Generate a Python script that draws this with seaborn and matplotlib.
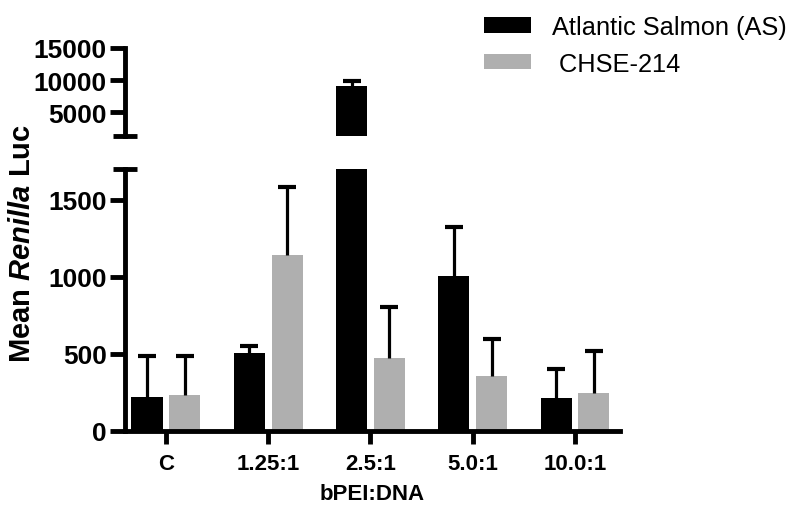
import numpy as np
import pandas as pd
import matplotlib
matplotlib.use("Agg")
import matplotlib.pyplot as plt
import seaborn as sns

# ---- data ----
categories = ["C", "1.25:1", "2.5:1", "5.0:1", "10.0:1"]
series = ["Atlantic Salmon (AS)", " CHSE-214"]
as_mean = [223, 508, 9150, 1004, 212]
as_sd = [264, 43, 680, 321, 188]
chse_mean = [236, 1140, 471, 357, 244]
chse_sd = [251, 444, 333, 242, 272]
colors = ["#000000", "#AFAFAF"]
lower_ticks = [0, 500, 1000, 1500]
upper_ticks = [5000, 10000, 15000]
lower_lim = (0, 1700)
upper_lim = (1380, 15000)

df = pd.DataFrame({
    "ratio": categories * 2,
    "line": [series[0]] * len(categories) + [series[1]] * len(categories),
    "mean": as_mean + chse_mean,
    "sd": as_sd + chse_sd,
})

sns.set_theme(style="ticks")
plt.rcParams["font.family"] = ["Liberation Sans", "DejaVu Sans"]
plt.rcParams["font.weight"] = "bold"
for k in ("axes.edgecolor", "xtick.color", "ytick.color", "text.color",
          "axes.labelcolor"):
    plt.rcParams[k] = "black"
plt.rcParams["mathtext.fontset"] = "custom"
plt.rcParams["mathtext.rm"] = "Liberation Sans:bold"
plt.rcParams["mathtext.it"] = "Liberation Sans:italic:bold"
plt.rcParams["mathtext.bf"] = "Liberation Sans:bold"

W, H = 787, 506
fig = plt.figure(figsize=(W / 100, H / 100), dpi=100)
ax_lo = fig.add_axes([125 / W, (H - 432) / H, 495 / W, 262 / H])
ax_hi = fig.add_axes([125 / W, (H - 136.7) / H, 495 / W, 87.7 / H])

LW = 3.5
for ax in (ax_lo, ax_hi):
    sns.barplot(data=df, x="ratio", y="mean", hue="line", palette=colors,
                saturation=1, width=0.74, gap=0.18, linewidth=0,
                errorbar=None, ax=ax, legend=(ax is ax_lo))
    for cont, sds, means in zip(ax.containers, [as_sd, chse_sd], [as_mean, chse_mean]):
        for bar, sd, m in zip(cont, sds, means):
            if ax is ax_hi and m < lower_lim[1]:
                continue
            x = bar.get_x() + bar.get_width() / 2
            y = bar.get_height()
            ax.plot([x, x], [y, y + sd], color="black", lw=2.3, zorder=3,
                    solid_capstyle="butt")
            ax.plot([x], [y + sd], marker="_", markersize=13, mew=3.0,
                    color="black", zorder=3)
    ax.set_xlim(-0.4, 4.44)
    ax.set_xlabel("")
    ax.set_ylabel("")
    for s in ("top", "right"):
        ax.spines[s].set_visible(False)
    ax.spines["left"].set_linewidth(LW)
    ax.spines["bottom"].set_linewidth(LW)
    ax.tick_params(axis="y", length=11, width=LW, pad=2, labelsize=19)

ax_lo.set_ylim(*lower_lim)
ax_lo.set_yticks(lower_ticks)
ax_lo.set_yticklabels([str(t) for t in lower_ticks])
ax_lo.tick_params(axis="x", length=9, width=LW, pad=7, labelsize=16)

ax_hi.set_ylim(*upper_lim)
ax_hi.set_yticks(upper_ticks)
ax_hi.set_yticklabels([str(t) for t in upper_ticks])
ax_hi.spines["bottom"].set_visible(False)
ax_hi.set_xticks([])

# break caps
ax_hi.plot([-0.025, 0.025], [0, 0], transform=ax_hi.transAxes, color="black",
           lw=LW, clip_on=False, solid_capstyle="butt")
ax_lo.plot([-0.025, 0.025], [1, 1], transform=ax_lo.transAxes, color="black",
           lw=LW, clip_on=False, solid_capstyle="butt")

ax_lo.set_xlabel("bPEI:DNA", fontsize=16, fontweight="bold", labelpad=6)
fig.text(22 / W, 1 - 243 / H, "Mean $\\mathit{Renilla}$ Luc", rotation=90,
         ha="center", va="center", fontsize=21, fontweight="bold")

handles, labels = ax_lo.get_legend_handles_labels()
ax_lo.get_legend().remove()
fig.legend(handles, labels, loc="upper left", bbox_to_anchor=(484 / W, 1 - 16 / H),
           frameon=False, prop={"weight": "normal", "size": 18.3},
           handlelength=1.85, handleheight=0.55, handletextpad=0.83,
           labelspacing=0.5, borderaxespad=0, borderpad=0)

fig.savefig("out.png", dpi=100)
